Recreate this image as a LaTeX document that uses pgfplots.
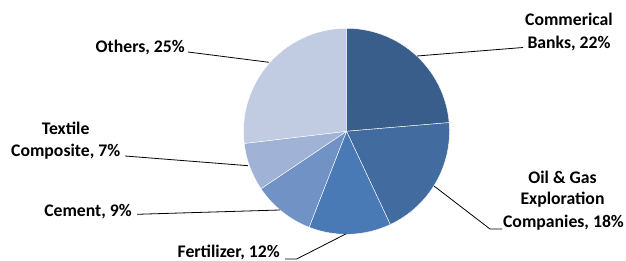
\documentclass[border=0pt]{standalone}
\usepackage{pgfplots}
\pgfplotsset{compat=1.18}
\usepackage{fontspec}
\setmainfont{Carlito}
\definecolor{cA}{RGB}{58,94,139}
\definecolor{cB}{RGB}{66,108,160}
\definecolor{cC}{RGB}{73,122,182}
\definecolor{cD}{RGB}{112,146,197}
\definecolor{cE}{RGB}{160,178,214}
\definecolor{cF}{RGB}{193,203,226}
\begin{document}
\begin{tikzpicture}[lbl/.style={inner sep=0pt,font=\fontsize{17.7}{21.5}\selectfont\bfseries}]
\path[use as bounding box] (0,0) rectangle (626pt,261pt);
\begin{axis}[at={(0,0)},anchor=south west,width=626pt,height=261pt,scale only axis,
  xmin=0,xmax=626,ymin=0,ymax=261,axis lines=none,clip=false]
\pgfplotsextra{
  % shares (percent labels); slices drawn proportional to their sum
  \def\total{0}
  \foreach \v in {22,18,12,9,7,25}{\pgfmathsetmacro\t{\total+\v}\xdef\total{\t}}
  \def\cura{90}
  \foreach \v/\c in {22/cA,18/cB,12/cC,9/cD,7/cE,25/cF}{
    \pgfmathsetmacro\na{\cura-\v/\total*360}
    \fill[\c,draw=white,line width=0.4pt] (axis cs:346.5,129.7) -- ++(\cura:103pt)
      arc[start angle=\cura,end angle=\na,radius=103pt] -- cycle;
    \xdef\cura{\na}
  }
  % leader lines (y = 261 - pixel row)
  \draw[black,line width=0.8pt] (axis cs:417,205) -- (axis cs:523,213.5);
  \draw[black,line width=0.8pt] (axis cs:434,75) -- (axis cs:490,32) -- (axis cs:502,32);
  \draw[black,line width=0.8pt] (axis cs:345.7,27) -- (axis cs:296.7,2) -- (axis cs:285,2);
  \draw[black,line width=0.8pt] (axis cs:280,51) -- (axis cs:137,46.7);
  \draw[black,line width=0.8pt] (axis cs:248,95.3) -- (axis cs:125,105);
  \draw[black,line width=0.8pt] (axis cs:269,198.7) -- (axis cs:188,209);
  % labels
  \node[lbl,anchor=base] at (axis cs:569,235) {Commerical};
  \node[lbl,anchor=base] at (axis cs:569,212.7) {Banks, 22\%};
  \node[lbl,anchor=base] at (axis cs:562.5,77.7) {Oil \& Gas};
  \node[lbl,anchor=base] at (axis cs:562.5,56) {Exploration};
  \node[lbl,anchor=base] at (axis cs:563.5,33.3) {Companies, 18\%};
  \node[lbl,anchor=base east] at (axis cs:280,3.2) {Fertilizer, 12\%};
  \node[lbl,anchor=base east] at (axis cs:132,44.3) {Cement, 9\%};
  \node[lbl,anchor=base] at (axis cs:65.7,126) {Textile};
  \node[lbl,anchor=base] at (axis cs:65.7,104.3) {Composite, 7\%};
  \node[lbl,anchor=base east] at (axis cs:185,208) {Others, 25\%};
}
\end{axis}
\end{tikzpicture}
\end{document}
